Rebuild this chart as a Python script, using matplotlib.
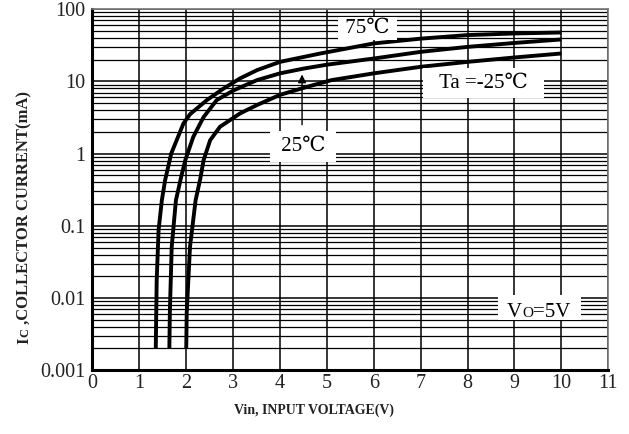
import matplotlib
matplotlib.use('Agg')
from matplotlib import pyplot as plt
from matplotlib.patches import Rectangle
from matplotlib.transforms import ScaledTranslation
from matplotlib.ticker import LogLocator, NullFormatter, FixedLocator

# curve data (Vin in V, Ic in mA)
vin_75 = [1.35, 1.37, 1.41, 1.48, 1.55, 1.68, 1.94, 2.08, 2.44, 2.79, 3.15, 3.51, 4.0, 4.86, 6.0, 7.0, 8.0, 9.0, 10.0]
ic_75 = [0.002, 0.0177, 0.087, 0.226, 0.43, 1.0, 2.6, 3.5, 5.5, 7.9, 11, 14.3, 18.6, 24.3, 33.5, 39, 43.7, 46, 47.5]

vin_25 = [1.64, 1.65, 1.69, 1.78, 1.90, 1.98, 2.15, 2.37, 2.65, 3.01, 3.51, 4.0, 4.5, 5.0, 6.0, 7.0, 8.0, 9.0, 10.0]
ic_25 = [0.002, 0.0062, 0.051, 0.226, 0.5, 0.81, 1.7, 3.2, 5.5, 7.5, 10.4, 12.9, 15, 17, 20.7, 25.6, 30, 34, 38]

vin_m25 = [2.0, 2.01, 2.08, 2.2, 2.3, 2.37, 2.51, 2.72, 3.15, 3.51, 4.0, 4.58, 5.1, 6.0, 7.0, 8.0, 9.0, 10.0]
ic_m25 = [0.002, 0.0062, 0.051, 0.226, 0.45, 0.81, 1.53, 2.35, 3.6, 4.7, 6.5, 8.4, 10.4, 12.9, 15.9, 18.6, 21.4, 24.3]

xticks = list(range(0, 12))
yticks = [0.001, 0.01, 0.1, 1, 10, 100]
ytick_labels = ['0.001', '0.01', '0.1', '1', '10', '100']

plt.rcParams['font.family'] = ['Liberation Serif', 'DejaVu Serif', 'Noto Sans CJK JP']

fig = plt.figure(figsize=(6.29, 4.34), dpi=100)
ax = fig.add_axes([0.147, 0.147, 0.82, 0.832])

ax.set_yscale('log')
ax.set_xlim(0, 11)
ax.set_ylim(0.001, 100)

ax.xaxis.set_major_locator(FixedLocator(xticks))
ax.yaxis.set_major_locator(FixedLocator(yticks))
ax.set_yticklabels(ytick_labels)
ax.yaxis.set_minor_locator(LogLocator(base=10, subs=range(2, 10)))
ax.yaxis.set_minor_formatter(NullFormatter())

ax.grid(True, which='major', axis='both', color='black', lw=1.1)
ax.grid(True, which='minor', axis='y', color='black', lw=0.9)
ax.tick_params(which='both', length=0, labelsize=14.5, colors='#222222')
ax.tick_params(axis='y', pad=5)
ax.tick_params(axis='x', pad=3)

for s in ['left', 'bottom']:
    ax.spines[s].set_linewidth(2.2)
    ax.spines[s].set_color('black')
for s in ['top', 'right']:
    ax.spines[s].set_linewidth(1.2)
    ax.spines[s].set_color('#777777')

for v, i in [(vin_75, ic_75), (vin_25, ic_25), (vin_m25, ic_m25)]:
    ax.plot(v, i, color='black', lw=2.8, solid_capstyle='butt', zorder=3)

def box(p):
    return dict(facecolor='white', edgecolor='none', pad=p)

ax.text(5.87, 54, ' 75\u2103 ', fontsize=15, ha='center', va='center', bbox=box(1.5), zorder=4)
ax.text(8.34, 9.4, '  Ta =-25\u2103  ', fontsize=15, ha='center', va='center', bbox=box(4), zorder=4)
ax.text(4.5, 1.25, ' 25\u2103 ', fontsize=15, ha='center', va='center', bbox=box(4), zorder=4)

# V_O label: the O is a smaller capital sitting on the same baseline
vo_x, vo_y = 9.52, 0.00547
anchor = fig.dpi_scale_trans + ScaledTranslation(vo_x, vo_y, ax.transData)
ax.add_patch(Rectangle((-0.41, -0.035), 0.83, 0.25, transform=anchor, facecolor='white',
                       edgecolor='none', zorder=4, clip_on=False))
for txt, size, dx in [('V', 15, -22.8), ('O', 11, -12.0), ('=5V', 15, -4.0)]:
    ax.annotate(txt, xy=(vo_x, vo_y), xytext=(dx, 0), textcoords='offset points',
                fontsize=size, ha='left', va='baseline', zorder=5)

ax.annotate('', xy=(4.47, 13.6), xytext=(4.47, 2.3),
            arrowprops=dict(arrowstyle='-|>', color='black', lw=1.0, mutation_scale=12), zorder=4)

fig.text(0.50, 0.055, 'Vin, INPUT VOLTAGE(V)', fontsize=10, fontweight='bold',
         ha='center', va='center', color='#222222')

# y label: "I" then a smaller "C", read bottom to top
for txt, size, dy in [('I', 12, -91.5), ('C', 9, -86.6), (' ,COLLECTOR CURRENT(mA)', 12, -80.2)]:
    fig.text(0.0445, 0.50, txt, fontsize=size, fontweight='bold', color='#222222',
             rotation=90, rotation_mode='anchor', ha='left', va='baseline',
             transform=fig.transFigure + ScaledTranslation(0, dy / 72, fig.dpi_scale_trans))

fig.savefig('out.png', dpi=100)
